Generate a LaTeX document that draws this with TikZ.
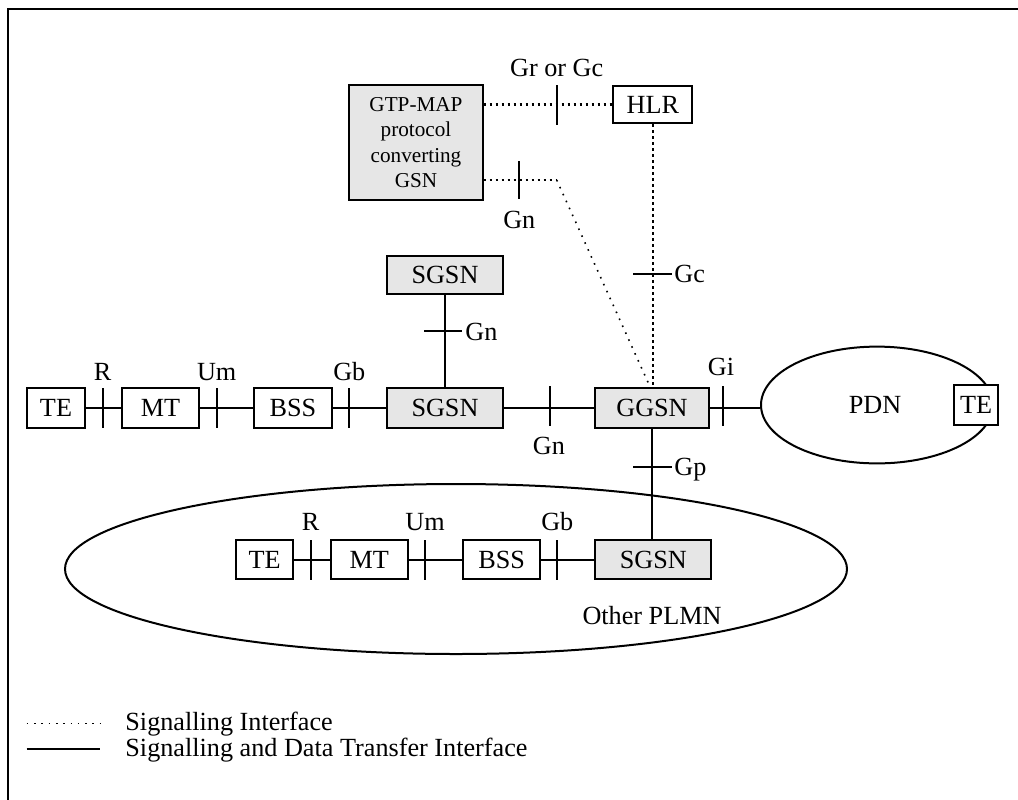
\documentclass[tikz,border=0pt]{standalone}
\usepackage{fontspec}
\setmainfont{Liberation Serif}
\usetikzlibrary{shapes.geometric}
\definecolor{boxgray}{RGB}{230,230,230}
\begin{document}
\begin{tikzpicture}[x=0.5pt,y=-0.5pt,
  every node/.style={font=\fontsize{13.1}{15}\selectfont, inner sep=0pt},
  box/.style={draw, line width=1pt, fill=white, minimum height=20.3pt},
  gbox/.style={box, fill=boxgray},
  sig/.style={line width=1.2pt, dash pattern=on 1.1pt off 1.9pt},
  diagsig/.style={line width=0.8pt, dash pattern=on 0.8pt off 3pt},
  legsig/.style={line width=0.8pt, dash pattern=on 0.8pt off 2.85pt},
  dat/.style={line width=1pt},
  tick/.style={line width=1pt},
  lbl/.style={text height=8.6pt, text depth=0pt},
  cloud/.style={ellipse, draw, line width=1pt}]
\useasboundingbox (0,0) rectangle (1018,799);
% frame
\draw[line width=1pt] (8,820) -- (8,9) -- (1040,9);

% ellipses
\node[cloud, minimum width=116pt, minimum height=58.4pt] (pdn) at (877,405) {};
\node[cloud, minimum width=391pt, minimum height=85pt] (plmn) at (456,569) {};

% upper row
\node[box, minimum width=29pt] (te1) at (56,408) {TE};
\node[box, minimum width=38.8pt] (mt1) at (160.5,408) {MT};
\node[box, minimum width=39pt] (bss1) at (293,408) {BSS};
\node[gbox, minimum width=58.3pt] (sgsn1) at (445,408) {SGSN};
\node[gbox, minimum width=57pt] (ggsn) at (652,408) {GGSN};
\node[gbox, minimum width=58.3pt, minimum height=19pt] (sgsn0) at (445,275) {SGSN};
\node (pdnlbl) at (875,405) {PDN};
\node[box, minimum width=22.3pt] (te3) at (976,405) {TE};
\node[box, minimum width=39.5pt, minimum height=18.8pt] (hlr) at (652.8,104.5) {HLR};
\node[gbox, minimum width=66.7pt, minimum height=57.5pt, align=center,
      font=\fontsize{10.6}{12.65}\selectfont] (gtp) at (416,142.5)
      {GTP-MAP\\protocol\\converting\\GSN};

% lower row
\node[box, minimum width=28.7pt, minimum height=19.75pt] (te2) at (264.7,559.5) {TE};
\node[box, minimum width=38.5pt, minimum height=19.75pt] (mt2) at (369.2,559.5) {MT};
\node[box, minimum width=38.3pt, minimum height=19.75pt] (bss2) at (501.7,559.5) {BSS};
\node[gbox, minimum width=58pt, minimum height=19.75pt] (sgsn2) at (653.3,559.5) {SGSN};
\node (plmnlbl) at (652,615.7) {Other PLMN};

% data connectors
\draw[dat] (te1) -- (mt1);
\draw[dat] (mt1) -- (bss1);
\draw[dat] (bss1) -- (sgsn1);
\draw[dat] (sgsn1) -- (ggsn);
\draw[dat] (ggsn.east) -- (ggsn.east -| pdn.west);
\draw[dat] (sgsn0) -- (sgsn1);
\draw[dat] (ggsn.south) -- (ggsn.south |- sgsn2.north);
\draw[dat] (te2) -- (mt2);
\draw[dat] (mt2) -- (bss2);
\draw[dat] (bss2) -- (sgsn2);

% signalling connectors
\coordinate (bend) at (556.7,180);
\draw[sig] (gtp.east |- hlr.west) -- (hlr.west);
\draw[sig] (gtp.east |- bend) -- (bend);
\draw[diagsig] (bend) -- ([xshift=-1pt]ggsn.north);
\draw[sig] (hlr.south) -- (hlr.south |- ggsn.north);

% ticks upper row
\draw[tick] (102.7,388) -- (102.7,428);
\draw[tick] (216.7,388) -- (216.7,428);
\draw[tick] (349.3,388) -- (349.3,428);
\draw[tick] (550,386) -- (550,426);
\draw[tick] (723,386) -- (723,426);
\draw[tick] (424,330.7) -- (462,330.7);
\draw[tick] (633,467) -- (672,467);
\draw[tick] (633,274.3) -- (672,274.3);
\draw[tick] (556.7,85) -- (556.7,125);
\draw[tick] (519.3,161) -- (519.3,199);
% ticks lower row
\draw[tick] (310.7,540) -- (310.7,580);
\draw[tick] (425,540) -- (425,580);
\draw[tick] (557.3,540) -- (557.3,580);

% labels
\node[lbl] (lR1) at (102.7,372) {R};
\node[lbl] (lUm1) at (216.7,372) {Um};
\node[lbl] (lGb1) at (349.3,372) {Gb};
\node[lbl] (lGn1) at (549,446) {Gn};
\node[lbl] (lGi) at (721,367) {Gi};
\node[lbl, anchor=west] (lGn0) at (465,332) {Gn};
\node[lbl, anchor=west] (lGp) at (674,467) {Gp};
\node[lbl, anchor=west] (lGc) at (674,274.3) {Gc};
\node[lbl] (lGrGc) at (556.7,68) {Gr or Gc};
\node[lbl] (lGn2) at (519.3,220) {Gn};
\node[lbl] (lR2) at (310.7,522) {R};
\node[lbl] (lUm2) at (425,522) {Um};
\node[lbl] (lGb2) at (557.3,522) {Gb};

% legend
\coordinate (l1a) at (26.7,723.3);
\coordinate (l1b) at (100,723.3);
\coordinate (l2a) at (26.7,749);
\coordinate (l2b) at (100,749);
\draw[legsig] (l1a) -- (l1b);
\draw[dat] (l2a) -- (l2b);
\node[lbl, anchor=west] (leg1) at (125,722) {Signalling Interface};
\node[lbl, anchor=west] (leg2) at (125,748.3) {Signalling and Data Transfer Interface};
\end{tikzpicture}
\end{document}
